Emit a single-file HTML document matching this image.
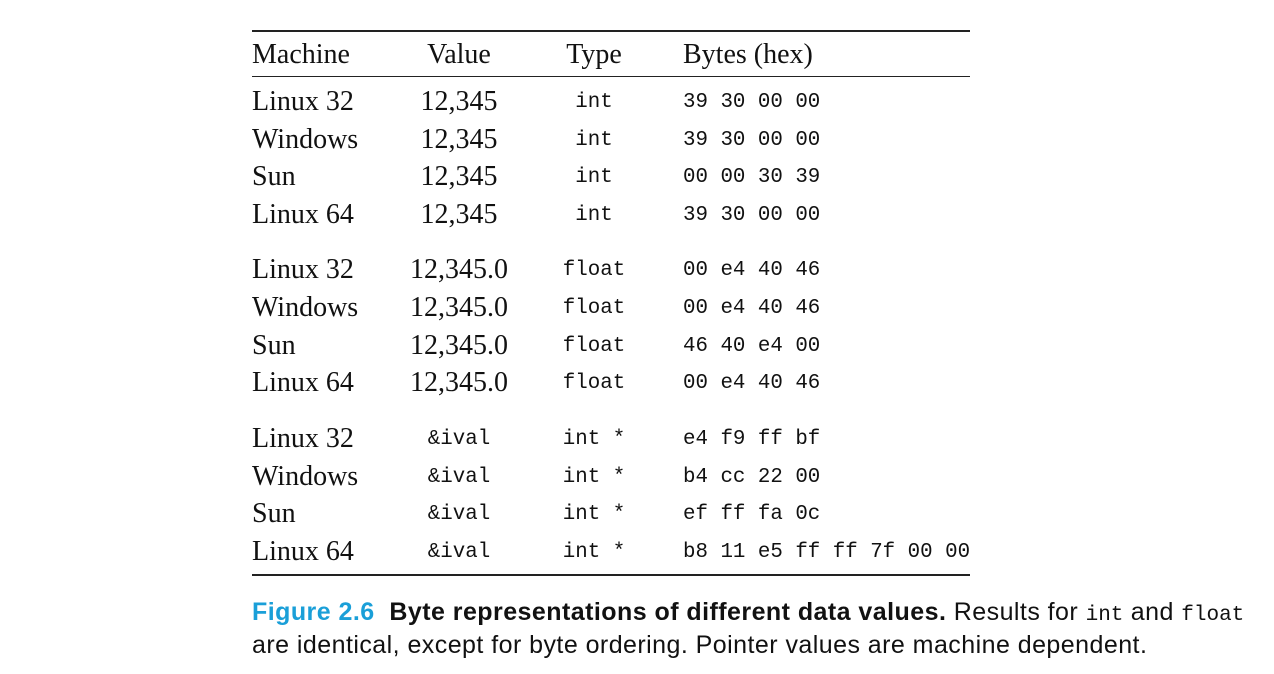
<!DOCTYPE html>
<html><head><meta charset="utf-8"><style>
body{margin:0;width:1274px;height:674px;background:#fff;position:relative;overflow:hidden;color:#111}
.r{position:absolute;height:30px;line-height:30px;white-space:nowrap}
.s{font-family:"Liberation Serif",serif;font-size:28px}
.m{font-family:"Liberation Mono",monospace;font-size:20.8px}
.c1{left:252px}
.c2{left:389px;width:140px;text-align:center}
.c3{left:524px;width:140px;text-align:center}
.c4{left:683px}
.hr{position:absolute;left:252px;width:718px;background:#222}
.cap{position:absolute;left:252px;font-family:"Liberation Sans",sans-serif;font-size:25px;letter-spacing:0.45px;white-space:nowrap;line-height:30px}
.cm{font-family:'Liberation Mono',monospace;font-size:21px;letter-spacing:0}
</style></head><body>
<div class="hr" style="top:30px;height:1.5px"></div>
<div class="hr" style="top:76px;height:1.2px"></div>
<div class="hr" style="top:574px;height:1.5px"></div>
<div>
<div class="r s c1" style="top:40px">Machine</div>
<div class="r s c2" style="top:40px">Value</div>
<div class="r s c3" style="top:40px">Type</div>
<div class="r s c4" style="top:40px">Bytes (hex)</div>
</div>
<div id="rows">
<div class="r s c1" style="top:87px">Linux 32</div><div class="r s c2" style="top:87px">12,345</div><div class="r m c3" style="top:88px">int</div><div class="r m c4" style="top:88px">39 30 00 00</div>
<div class="r s c1" style="top:125px">Windows</div><div class="r s c2" style="top:125px">12,345</div><div class="r m c3" style="top:126px">int</div><div class="r m c4" style="top:126px">39 30 00 00</div>
<div class="r s c1" style="top:162px">Sun</div><div class="r s c2" style="top:162px">12,345</div><div class="r m c3" style="top:163px">int</div><div class="r m c4" style="top:163px">00 00 30 39</div>
<div class="r s c1" style="top:200px">Linux 64</div><div class="r s c2" style="top:200px">12,345</div><div class="r m c3" style="top:201px">int</div><div class="r m c4" style="top:201px">39 30 00 00</div>

<div class="r s c1" style="top:255px">Linux 32</div><div class="r s c2" style="top:255px">12,345.0</div><div class="r m c3" style="top:256px">float</div><div class="r m c4" style="top:256px">00 e4 40 46</div>
<div class="r s c1" style="top:293px">Windows</div><div class="r s c2" style="top:293px">12,345.0</div><div class="r m c3" style="top:294px">float</div><div class="r m c4" style="top:294px">00 e4 40 46</div>
<div class="r s c1" style="top:331px">Sun</div><div class="r s c2" style="top:331px">12,345.0</div><div class="r m c3" style="top:332px">float</div><div class="r m c4" style="top:332px">46 40 e4 00</div>
<div class="r s c1" style="top:368px">Linux 64</div><div class="r s c2" style="top:368px">12,345.0</div><div class="r m c3" style="top:369px">float</div><div class="r m c4" style="top:369px">00 e4 40 46</div>

<div class="r s c1" style="top:424px">Linux 32</div><div class="r m c2" style="top:425px">&amp;ival</div><div class="r m c3" style="top:425px">int *</div><div class="r m c4" style="top:425px">e4 f9 ff bf</div>
<div class="r s c1" style="top:462px">Windows</div><div class="r m c2" style="top:463px">&amp;ival</div><div class="r m c3" style="top:463px">int *</div><div class="r m c4" style="top:463px">b4 cc 22 00</div>
<div class="r s c1" style="top:499px">Sun</div><div class="r m c2" style="top:500px">&amp;ival</div><div class="r m c3" style="top:500px">int *</div><div class="r m c4" style="top:500px">ef ff fa 0c</div>
<div class="r s c1" style="top:537px">Linux 64</div><div class="r m c2" style="top:538px">&amp;ival</div><div class="r m c3" style="top:538px">int *</div><div class="r m c4" style="top:538px">b8 11 e5 ff ff 7f 00 00</div>
</div>
<div class="cap" style="top:597px"><b style="color:#1a9fd8">Figure 2.6</b>&nbsp;&nbsp;<b>Byte representations of different data values.</b> Results for <span class="cm">int</span> and <span class="cm">float</span></div>
<div class="cap" style="top:630px">are identical, except for byte ordering. Pointer values are machine dependent.</div>
</body></html>
